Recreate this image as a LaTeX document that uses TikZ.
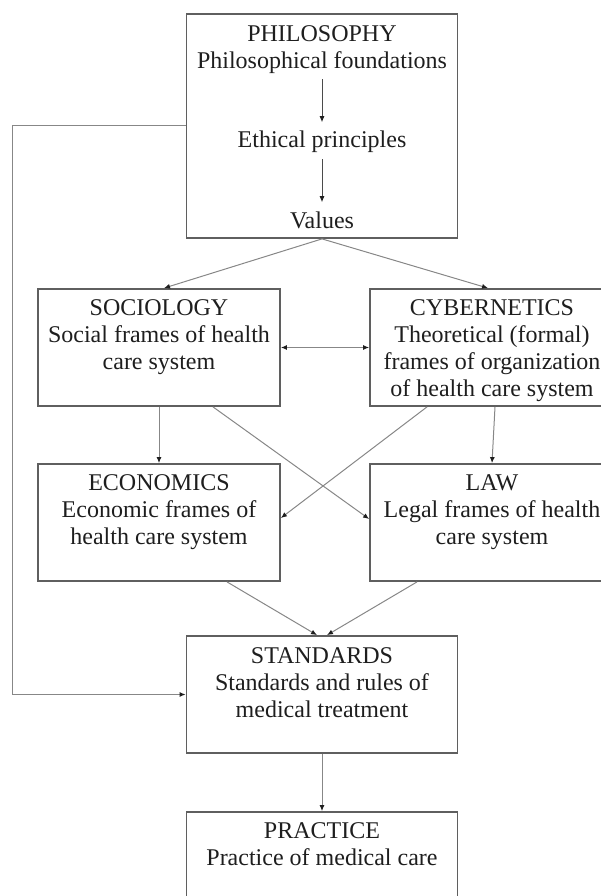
\documentclass[tikz,border=0pt]{standalone}
\usepackage{fontspec}
\setmainfont{Liberation Serif}
\usetikzlibrary{arrows.meta,%
                positioning}
\definecolor{boxgray}{RGB}{95,95,95}
\definecolor{linkgray}{RGB}{135,135,135}
\definecolor{ink}{RGB}{30,30,30}

\begin{document}
\begin{tikzpicture}[>={Latex[length=6pt,width=5pt,color=ink]}, x=1pt, y=1pt]
  \tikzset{frame/.style = {draw=boxgray, line width=1.8pt, minimum height=117pt, inner sep=0pt}}
  \tikzset{txt/.style   = {align=center, inner sep=0pt, text=ink,
                           font=\fontsize{24}{27}\selectfont}}
  \tikzset{link/.style  = {->, draw=linkgray, line width=1pt}}
  \tikzset{inlink/.style = {->, draw=ink!80, line width=0.8pt,
                            shorten <=6pt, shorten >=9pt}}
  \useasboundingbox (0,0) rectangle (601,-896);
  \clip (0,0) rectangle (601,-896);

  % boxes
  \node[frame, minimum width=271pt, minimum height=224pt] (phil) at (322,-126) {};
  \node[frame, minimum width=242pt] (soc)  at (159,-347.5) {};
  \node[frame, minimum width=244pt] (cyb)  at (492,-347.5) {};
  \node[frame, minimum width=242pt] (econ) at (159,-522.5) {};
  \node[frame, minimum width=244pt] (law)  at (492,-522.5) {};
  \node[frame, minimum width=271pt] (std)  at (322,-694.5) {};
  \node[frame, minimum width=271pt] (prac) at (322,-870.5) {};

  % texts
  \node[txt, below=12pt of phil.north] (philtop) {PHILOSOPHY\\Philosophical foundations};
  \node[txt, anchor=base] (ethics) at (322,-148) {Ethical principles};
  \node[txt, anchor=base] (values) at (322,-228) {Values};
  \node[txt, below=11pt of soc.north]  (soctxt)  {SOCIOLOGY\\Social frames of health\\care system};
  \node[txt, below=11pt of cyb.north]  (cybtxt)  {CYBERNETICS\\Theoretical (formal)\\frames of organization\\of health care system};
  \node[txt, below=11pt of econ.north] (econtxt) {ECONOMICS\\Economic frames of\\health care system};
  \node[txt, below=11pt of law.north]  (lawtxt)  {LAW\\Legal frames of health\\care system};
  \node[txt, below=12pt of std.north]  (stdtxt)  {STANDARDS\\Standards and rules of\\medical treatment};
  \node[txt, below=11pt of prac.north] (practxt) {PRACTICE\\Practice of medical care};

  \coordinate (back) at (12,-126);

  % inside philosophy
  \draw[inlink] (philtop) -- (ethics);
  \draw[inlink] (ethics) -- (values);

  % links
  \draw[link] (phil.south) -- ([xshift=5pt]soc.north);
  \draw[link] (phil.south) -- ([xshift=-4pt]cyb.north);
  \draw[link,<->] (soc.east) -- (cyb.west);
  \draw[link] (soc.south) -- (econ.north);
  \draw[link] ([xshift=3pt]cyb.south) -- (law.north);
  \draw[link] ([xshift=54pt]soc.south) -- ([yshift=3.5pt]law.west);
  \draw[link] ([xshift=-65pt]cyb.south) -- ([yshift=4.5pt]econ.east);
  \draw[link] ([xshift=68pt]econ.south) -- ([xshift=-5pt]std.north);
  \draw[link] ([xshift=-75pt]law.south) -- ([xshift=5pt]std.north);
  \draw[link] (phil.west) -- (back) |- (std.west);
  \draw[link] (std.south) -- (prac.north);
\end{tikzpicture}
\end{document}
